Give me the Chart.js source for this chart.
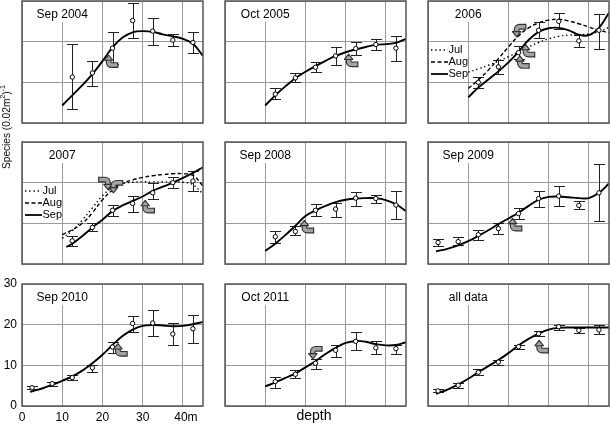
<!DOCTYPE html>
<html><head><meta charset="utf-8">
<script src="https://cdn.jsdelivr.net/npm/chart.js@4/dist/chart.umd.min.js"></script>
<style>
html,body{margin:0;padding:0;background:#fff;}
#wrap{position:relative;width:610px;height:425px;overflow:hidden;background:#fff;}
#wrap canvas{position:absolute;left:0;top:0;}
.lab{position:absolute;font-family:"Liberation Sans",Arial,sans-serif;color:#000;white-space:nowrap;z-index:20;}
#xlab{left:314px;top:408px;font-size:14px;line-height:14px;transform:translateX(-50%);}
#ylab{left:6px;top:127px;font-size:11.5px;line-height:12px;transform:translate(-50%,-50%) rotate(-90deg) scale(0.88,1);}
#ylab sup{font-size:8px;vertical-align:5px;line-height:0;}
</style>
</head><body>
<div id="wrap">
<div id="xlab" class="lab">depth</div>
<div id="ylab" class="lab">Species (0.02m<sup>2</sup>)<sup>-1</sup></div>
</div>
<script>
// ---------- data ----------
const xTicks = [0, 10, 20, 30, 40];
const yTicks = [0, 10, 20, 30];
const depth7 = [12.5, 17.5, 22.5, 27.5, 32.5, 37.5, 42.5];
const depth9 = [2.5, 7.5, 12.5, 17.5, 22.5, 27.5, 32.5, 37.5, 42.5];
const fitX10 = [10, 12.5, 15, 17.5, 20, 22.5, 25, 27.5, 30, 32.5, 35, 37.5, 40, 42.5, 45];
const fitX11 = [11, 12.5, 15, 17.5, 20, 22.5, 25, 27.5, 30, 32.5, 35, 37.5, 40, 42.5, 45];
const fitX2  = [2, 5, 7.5, 10, 12.5, 15, 17.5, 20, 22.5, 25, 27.5, 30, 32.5, 35, 37.5, 40, 42.5, 45];

const sep2004Mean = [11.3, 12.3, 18.4, 25.2, 22.6, 20.4, 19.8];
const sep2004Hi   = [19.5, 15.2, 22.3, 29.4, 25.7, 21.9, 22.3];
const sep2004Lo   = [3.4, 9.1, 14.4, 21.0, 19.3, 18.9, 17.1];
const sep2004Fit  = [4.3, 6.8, 9.3, 12.0, 15.2, 18.6, 21.0, 22.3, 22.6, 22.4, 21.8, 21.3, 20.7, 19.5, 16.5];

const oct2005Mean = [7.1, 11.1, 13.7, 16.5, 18.3, 19.3, 18.4];
const oct2005Hi   = [8.7, 12.4, 15.1, 18.8, 19.9, 20.6, 21.5];
const oct2005Lo   = [5.9, 10.0, 12.5, 14.3, 16.6, 17.9, 15.3];
const oct2005Fit  = [4.3, 6.8, 9.0, 11.0, 12.6, 14.0, 15.3, 16.5, 17.4, 18.1, 18.7, 19.2, 19.4, 19.7, 20.7];

const y2006Mean = [10.0, 13.8, 17.3, 22.8, 25.0, 20.2, 22.8];
const y2006Hi   = [11.2, 15.4, 18.9, 24.8, 27.1, 21.6, 26.9];
const y2006Lo   = [8.7, 12.0, 15.7, 21.0, 23.0, 18.8, 18.3];
const y2006Jul  = [12.5, 13.3, 14.2, 15.2, 16.3, 17.5, 18.7, 19.8, 20.7, 21.3, 21.6, 21.7, 21.9, 22.5, 23.5];
const y2006Aug  = [8.5, 10.6, 13.0, 15.8, 18.7, 21.4, 23.4, 24.6, 25.3, 25.5, 25.1, 24.4, 23.6, 22.8, 22.2];
const y2006Sep  = [6.3, 8.7, 10.7, 12.7, 14.9, 17.5, 20.4, 22.4, 23.3, 23.4, 22.8, 21.7, 21.6, 23.4, 27.1];

const y2007Mean = [5.7, 9.0, 13.2, 14.9, 17.5, 20.0, 20.4];
const y2007Hi   = [6.9, 10.2, 14.5, 16.7, 19.8, 21.4, 22.8];
const y2007Lo   = [4.5, 8.1, 11.8, 12.8, 16.1, 18.6, 17.9];
const y2007Jul  = [6.3, 8.2, 10.8, 13.8, 16.8, 18.8, 19.8, 20.1, 20.2, 20.2, 20.2, 20.2, 20.1, 19.5, 17.2];
const y2007Aug  = [7.2, 8.4, 10.0, 12.6, 15.8, 18.2, 19.8, 20.7, 21.3, 21.7, 22.0, 22.2, 22.2, 21.8, 19.2];
const y2007Sep  = [4.2, 5.0, 6.9, 9.0, 10.9, 13.0, 14.4, 15.5, 16.6, 18.0, 19.0, 20.0, 21.2, 22.4, 23.8];

const sep2008Mean = [6.7, 8.0, 13.2, 13.5, 16.2, 16.1, 14.5];
const sep2008Hi   = [8.0, 9.4, 14.7, 15.1, 17.8, 17.0, 18.0];
const sep2008Lo   = [5.1, 7.1, 11.8, 11.6, 14.3, 14.9, 11.0];
const sep2008Fit  = [3.2, 5.0, 7.1, 9.4, 11.8, 13.2, 14.3, 15.2, 15.8, 16.1, 16.2, 16.2, 15.7, 14.7, 13.0];

const sep2009Mean = [5.3, 5.5, 7.2, 8.7, 12.4, 16.1, 16.7, 14.4, 17.5];
const sep2009Hi   = [6.1, 6.7, 8.4, 10.2, 13.7, 18.0, 19.2, 15.5, 24.5];
const sep2009Lo   = [4.5, 4.6, 5.9, 7.3, 11.0, 13.9, 14.3, 13.5, 10.6];
const sep2009Fit  = [3.1, 3.8, 4.6, 5.6, 6.9, 8.3, 9.8, 11.2, 12.6, 14.3, 15.8, 16.5, 16.6, 16.4, 16.2, 16.2, 17.5, 19.8];

const sep2010Mean = [4.5, 5.5, 7.0, 9.4, 14.5, 20.3, 20.4, 17.7, 19.0];
const sep2010Hi   = [4.9, 6.0, 7.7, 10.2, 15.7, 22.1, 23.5, 20.5, 22.5];
const sep2010Lo   = [4.1, 4.9, 6.4, 8.3, 13.1, 18.2, 17.2, 14.9, 15.5];
const sep2010Fit  = [3.5, 4.3, 5.2, 6.2, 7.3, 8.7, 10.5, 12.6, 15.0, 17.2, 18.8, 19.7, 19.9, 19.8, 19.6, 19.7, 20.1, 20.7];

const oct2011Mean = [6.0, 7.8, 10.5, 13.7, 15.9, 14.3, 14.1];
const oct2011Hi   = [7.2, 8.8, 11.6, 15.1, 18.2, 15.9, 15.1];
const oct2011Lo   = [4.5, 7.0, 9.2, 12.1, 13.7, 12.8, 12.7];
const oct2011Fit  = [4.8, 5.8, 6.9, 8.0, 9.5, 11.0, 12.8, 14.3, 15.5, 16.0, 15.8, 15.2, 14.9, 15.0, 15.7];

const allMean = [3.7, 5.1, 8.3, 10.8, 14.6, 17.8, 19.5, 18.6, 18.7];
const allHi   = [4.1, 5.6, 9.0, 11.4, 15.1, 18.4, 20.0, 19.2, 19.9];
const allLo   = [3.5, 4.5, 7.7, 10.1, 14.1, 17.2, 18.8, 18.0, 17.6];
const allFit  = [3.0, 4.1, 5.3, 6.7, 8.3, 9.8, 11.3, 13.0, 14.9, 16.5, 17.8, 18.8, 19.2, 19.3, 19.3, 19.3, 19.3, 19.3];

// arrow markers (depth, value, kind)
const arrows2004 = [[22.3, 15.1, 'U']];
const arrows2005 = [[31.5, 15.3, 'U']];
const arrows2006 = [[22.8, 22.8, 'D'], [25.0, 17.7, 'U'], [23.6, 14.9, 'U']];
const arrows2007 = [[20.6, 19.9, 'DL'], [23.5, 19.1, 'D'], [31.4, 14.0, 'U']];
const arrows2008 = [[20.5, 9.1, 'U']];
const arrows2009 = [[21.8, 9.6, 'U']];
const arrows2010 = [[24.6, 13.7, 'U']];
const arrows2011 = [[22.6, 13.2, 'D']];
const arrowsAll  = [[28.4, 14.5, 'U']];

const monthNames = ['Jul', 'Aug', 'Sep'];

// ---------- layout ----------
const colLeft = [22, 225, 428];
const rowTop = [1, 142, 284];
const PW = 181, PH = 122;
const FONT = '"Liberation Sans", Arial, Helvetica, sans-serif';
const dashOf = {Jul: [1.4, 2.8], Aug: [4, 2.5], Sep: []};

const panels = [
  {title:'Sep 2004', c:0, r:0, px:depth7, mean:sep2004Mean, hi:sep2004Hi, lo:sep2004Lo, fits:[['Sep', fitX10, sep2004Fit]], arrows:arrows2004},
  {title:'Oct 2005', c:1, r:0, px:depth7, mean:oct2005Mean, hi:oct2005Hi, lo:oct2005Lo, fits:[['Sep', fitX10, oct2005Fit]], arrows:arrows2005},
  {title:'2006', c:2, r:0, px:depth7, mean:y2006Mean, hi:y2006Hi, lo:y2006Lo, legend:true,
    fits:[['Jul', fitX10, y2006Jul], ['Aug', fitX10, y2006Aug], ['Sep', fitX10, y2006Sep]], arrows:arrows2006},
  {title:'2007', c:0, r:1, px:depth7, mean:y2007Mean, hi:y2007Hi, lo:y2007Lo, legend:true,
    fits:[['Jul', fitX10, y2007Jul], ['Aug', fitX10, y2007Aug], ['Sep', fitX11, y2007Sep]], arrows:arrows2007},
  {title:'Sep 2008', c:1, r:1, px:depth7, mean:sep2008Mean, hi:sep2008Hi, lo:sep2008Lo, fits:[['Sep', fitX10, sep2008Fit]], arrows:arrows2008},
  {title:'Sep 2009', c:2, r:1, px:depth9, mean:sep2009Mean, hi:sep2009Hi, lo:sep2009Lo, fits:[['Sep', fitX2, sep2009Fit]], arrows:arrows2009},
  {title:'Sep 2010', c:0, r:2, px:depth9, mean:sep2010Mean, hi:sep2010Hi, lo:sep2010Lo, fits:[['Sep', fitX2, sep2010Fit]], arrows:arrows2010, labeled:true},
  {title:'Oct 2011', c:1, r:2, px:depth7, mean:oct2011Mean, hi:oct2011Hi, lo:oct2011Lo, fits:[['Sep', fitX10, oct2011Fit]], arrows:arrows2011},
  {title:'all data', c:2, r:2, px:depth9, mean:allMean, hi:allHi, lo:allLo, fits:[['Sep', fitX2, allFit]], arrows:arrowsAll}
];

function drawArrow(ctx, cx, cy, kind) {
  ctx.save();
  ctx.translate(cx, cy);
  ctx.scale(0.88, 0.88);
  if (kind === 'D') ctx.scale(1, -1);
  if (kind === 'DL') ctx.scale(-1, -1);
  const p = new Path2D();
  p.moveTo(7, 4); p.lineTo(0, 4); p.quadraticCurveTo(-3.5, 4, -3.5, 0.5); p.lineTo(-3.5, -1.5);
  ctx.lineCap = 'butt'; ctx.lineJoin = 'round';
  ctx.strokeStyle = '#333'; ctx.lineWidth = 6.6; ctx.stroke(p);
  ctx.strokeStyle = '#a3a3a3'; ctx.lineWidth = 4; ctx.stroke(p);
  ctx.beginPath(); ctx.moveTo(7, 0.7); ctx.lineTo(7, 7.3);
  ctx.strokeStyle = '#333'; ctx.lineWidth = 1.3; ctx.stroke();
  ctx.beginPath(); ctx.moveTo(-3.5, -7.5); ctx.lineTo(-8.3, -1.5); ctx.lineTo(1.3, -1.5); ctx.closePath();
  ctx.fillStyle = '#a3a3a3'; ctx.fill();
  ctx.strokeStyle = '#333'; ctx.lineWidth = 1.3; ctx.stroke();
  ctx.restore();
}

const panelPlugin = {
  id: 'panelDeco',
  beforeDatasetsDraw(chart) {
    const P = chart.options.plugins.panelDeco.panel;
    const {ctx, chartArea: a} = chart;
    const xs = chart.scales.x, ys = chart.scales.y;
    ctx.save();
    // title with white box
    ctx.font = '12px ' + FONT;
    const tcx = xs.getPixelForValue(10);
    const tw = ctx.measureText(P.title).width;
    ctx.fillStyle = '#fff';
    ctx.fillRect(tcx - tw / 2 - 3, a.top + 1, tw + 6, 20);
    ctx.fillStyle = '#000'; ctx.textAlign = 'center'; ctx.textBaseline = 'alphabetic';
    ctx.fillText(P.title, tcx, a.top + 17);
    // legend
    if (P.legend) {
      ctx.fillStyle = '#fff';
      ctx.fillRect(a.left + 1, a.top + 42, 38, 38);
      ctx.font = '11px ' + FONT; ctx.textAlign = 'left'; ctx.textBaseline = 'middle';
      monthNames.forEach((m, i) => {
        const yy = a.top + 49 + i * 12;
        ctx.beginPath(); ctx.setLineDash(dashOf[m]);
        ctx.strokeStyle = '#000'; ctx.lineWidth = m === 'Sep' ? 1.8 : 1.4;
        ctx.moveTo(a.left + 3, yy); ctx.lineTo(a.left + 20, yy); ctx.stroke();
        ctx.setLineDash([]);
        ctx.fillStyle = '#000'; ctx.fillText(m, a.left + 20.5, yy);
      });
    }
    // error bars
    ctx.strokeStyle = '#222'; ctx.lineWidth = 1;
    P.px.forEach((xv, i) => {
      const px = Math.round(xs.getPixelForValue(xv)) + 0.5;
      const y1 = Math.round(ys.getPixelForValue(P.hi[i])) + 0.5;
      const y2 = Math.round(ys.getPixelForValue(P.lo[i])) + 0.5;
      ctx.beginPath();
      ctx.moveTo(px, y1); ctx.lineTo(px, y2);
      ctx.moveTo(px - 5.5, y1); ctx.lineTo(px + 5.5, y1);
      ctx.moveTo(px - 5.5, y2); ctx.lineTo(px + 5.5, y2);
      ctx.stroke();
    });
    ctx.restore();
  },
  afterDatasetsDraw(chart) {
    const P = chart.options.plugins.panelDeco.panel;
    const {ctx, chartArea: a} = chart;
    const xs = chart.scales.x, ys = chart.scales.y;
    P.arrows.forEach(([ax, ay, k]) => drawArrow(ctx, xs.getPixelForValue(ax), ys.getPixelForValue(ay), k));
    ctx.save();
    ctx.strokeStyle = '#555'; ctx.lineWidth = 1.5;
    ctx.strokeRect(a.left, a.top, a.right - a.left, a.bottom - a.top);
    ctx.restore();
  }
};

const wrap = document.getElementById('wrap');
panels.forEach(P => {
  const cv = document.createElement('canvas');
  cv.width = 610; cv.height = 425;
  cv.style.width = '610px'; cv.style.height = '425px';
  wrap.appendChild(cv);
  const L = colLeft[P.c], T = rowTop[P.r];
  const yW = P.labeled ? 22 : 0, xH = P.labeled ? 18 : 0;
  const datasets = [{
    label: 'mean', data: P.px.map((x, i) => ({x, y: P.mean[i]})), showLine: false,
    pointRadius: 2.2, pointStyle: 'circle', pointBackgroundColor: '#fff', pointBorderColor: '#000',
    pointBorderWidth: 1, order: 0
  }];
  P.fits.forEach(([m, fx, fy]) => {
    datasets.push({
      label: m, data: fx.map((x, i) => ({x, y: fy[i]})), showLine: true, pointRadius: 0,
      borderColor: '#000', borderWidth: m === 'Sep' ? 1.9 : 1.4, borderDash: dashOf[m],
      tension: 0.4, fill: false, order: 1
    });
  });
  new Chart(cv, {
    type: 'line',
    data: {datasets},
    plugins: [panelPlugin],
    options: {
      responsive: false, animation: false, devicePixelRatio: 1,
      events: [],
      layout: {autoPadding: false, padding: {left: L - yW, top: T, right: 610 - L - PW, bottom: 425 - T - PH - xH}},
      plugins: {legend: {display: false}, tooltip: {enabled: false}, panelDeco: {panel: P}},
      scales: {
        x: {
          type: 'linear', min: 0, max: 45,
          afterBuildTicks: s => { s.ticks = xTicks.map(v => ({value: v})); },
          afterFit: s => { s.height = xH; s.paddingLeft = 0; s.paddingRight = 0; },
          grid: {color: '#9a9a9a', lineWidth: 1, drawTicks: false},
          border: {display: false},
          ticks: {display: !!P.labeled, autoSkip: false, maxRotation: 0, padding: 4, color: '#000',
            font: {family: FONT, size: 12},
            callback: v => v === 40 ? '\u200240m' : String(v)}
        },
        y: {
          type: 'linear', min: 0, max: 30,
          afterBuildTicks: s => { s.ticks = yTicks.map(v => ({value: v})); },
          afterFit: s => { s.width = yW; s.paddingTop = 0; s.paddingBottom = 0; },
          grid: {color: '#9a9a9a', lineWidth: 1, drawTicks: false},
          border: {display: false},
          ticks: {display: !!P.labeled, autoSkip: false, padding: 5, color: '#000',
            font: {family: FONT, size: 12}}
        }
      }
    }
  });
});
</script>
</body></html>
